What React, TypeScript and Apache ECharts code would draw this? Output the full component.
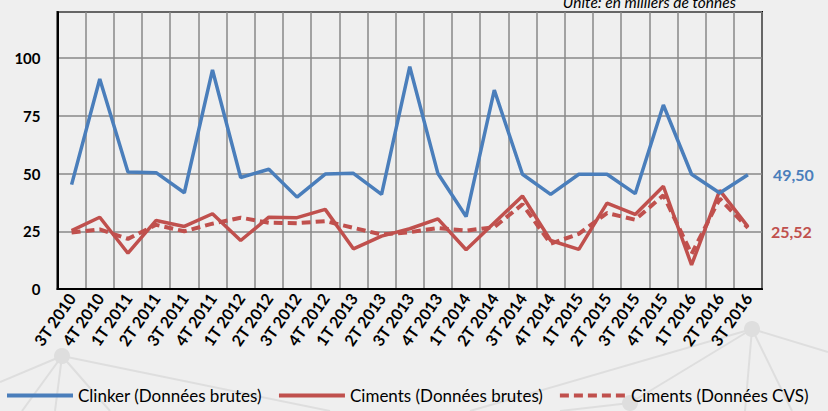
import React, { useEffect, useRef } from "react";
import * as echarts from "echarts";

const categories = [
  "3T 2010", "4T 2010",
  "1T 2011", "2T 2011", "3T 2011", "4T 2011",
  "1T 2012", "2T 2012", "3T 2012", "4T 2012",
  "1T 2013", "2T 2013", "3T 2013", "4T 2013",
  "1T 2014", "2T 2014", "3T 2014", "4T 2014",
  "1T 2015", "2T 2015", "3T 2015", "4T 2015",
  "1T 2016", "2T 2016", "3T 2016",
];

const clinkerBrutes = [
  45.2, 91.0, 50.7, 50.4, 41.7, 94.9, 48.3, 51.9, 39.8, 49.8, 50.1, 41.0, 96.3,
  50.0, 31.4, 86.2, 49.7, 41.0, 49.7, 49.7, 41.3, 79.7, 49.7, 41.6, 49.5,
];

const cimentsBrutes = [
  25.3, 31.1, 15.5, 29.7, 27.1, 32.6, 21.0, 31.1, 30.9, 34.5, 17.4, 22.9, 26.1,
  30.4, 17.0, 28.7, 40.3, 21.0, 17.2, 37.2, 32.3, 44.5, 10.4, 42.7, 27.0,
];

const cimentsCvs = [
  24.5, 25.8, 21.7, 27.8, 25.0, 28.3, 30.9, 28.7, 28.5, 29.4, 26.5, 23.6, 24.6,
  26.4, 25.3, 26.8, 36.7, 19.6, 23.9, 32.9, 30.0, 40.6, 15.2, 39.1, 26.5,
];

const seriesNames = [
  "Clinker (Données brutes)",
  "Ciments (Données brutes)",
  "Ciments (Données CVS)",
];

const endLabelTexts = ["49,50", "25,52"];

const unitText = "Unité: en milliers de tonnes";

const BLUE = "#4a7ebb";
const RED = "#c0504d";
const FONT = "Lato, 'Open Sans', sans-serif";

export default function App() {
  const ref = useRef<HTMLDivElement>(null);

  useEffect(() => {
    document.body.style.margin = "0";
    if (!ref.current) return;
    const chart = echarts.init(ref.current, undefined, { renderer: "svg" });

    const deco = "#dedede";
    const lines: number[][] = [
      [62, 356, 0, 382],
      [62, 356, 22, 411],
      [62, 356, 55, 411],
      [62, 356, 110, 411],
      [62, 356, 330, 411],
      [752, 329, 828, 352],
      [752, 329, 745, 411],
      [752, 329, 792, 411],
      [752, 329, 630, 403],
      [752, 329, 470, 411],
      [630, 403, 560, 411],
    ];

    chart.setOption({
      animation: false,
      backgroundColor: "#efefef",
      textStyle: { fontFamily: FONT },
      graphic: [
        ...lines.map((l) => ({
          type: "line",
          z: -10,
          silent: true,
          shape: { x1: l[0], y1: l[1], x2: l[2], y2: l[3] },
          style: { stroke: deco, lineWidth: 2 },
        })),
        { type: "circle", z: -10, silent: true, shape: { cx: 62, cy: 356, r: 8 }, style: { fill: deco } },
        { type: "circle", z: -10, silent: true, shape: { cx: 752, cy: 329, r: 8 }, style: { fill: deco } },
        { type: "circle", z: -10, silent: true, shape: { cx: 630, cy: 403, r: 8 }, style: { fill: deco } },
        {
          type: "text",
          right: 92,
          top: -6,
          style: {
            text: unitText,
            font: "italic 15.5px " + FONT,
            fill: "#000",
          },
        },
      ],
      grid: {
        left: 57.5,
        right: 66,
        top: 12,
        bottom: 122,
        show: true,
        borderColor: "#000",
        borderWidth: 2,
        backgroundColor: "transparent",
      },
      legend: {
        left: 0,
        top: 382,
        itemWidth: 66,
        itemHeight: 14,
        itemGap: 15,
        itemStyle: { opacity: 0 },
        lineStyle: { width: 4 },
        textStyle: { fontFamily: FONT, fontSize: 17, color: "#000" },
        data: seriesNames,
      },
      xAxis: {
        type: "category",
        data: categories,
        boundaryGap: true,
        axisLine: { show: true, lineStyle: { color: "#000", width: 2 } },
        axisTick: { show: false },
        splitLine: { show: true, lineStyle: { color: "#888", width: 1.5 } },
        axisLabel: {
          interval: 0,
          rotate: 55,
          fontFamily: FONT,
          fontWeight: "bold",
          fontSize: 16,
          color: "#000",
          margin: 6,
        },
      },
      yAxis: {
        type: "value",
        min: 0,
        max: 120,
        interval: 25,
        axisLine: { show: true, lineStyle: { color: "#000", width: 2 } },
        axisTick: { show: false },
        splitLine: { show: true, lineStyle: { color: "#888", width: 1.5 } },
        axisLabel: {
          showMaxLabel: false,
          fontFamily: FONT,
          fontWeight: "bold",
          fontSize: 15,
          color: "#000",
          margin: 17,
        },
      },
      series: [
        {
          name: seriesNames[0],
          type: "line",
          data: clinkerBrutes,
          symbol: "none",
          lineStyle: { color: BLUE, width: 3.5 },
          itemStyle: { color: BLUE },
          z: 3,
          endLabel: {
            show: true,
            formatter: () => endLabelTexts[0],
            color: BLUE,
            fontFamily: FONT,
            fontWeight: "bold",
            fontSize: 16,
            distance: 25,
          },
        },
        {
          name: seriesNames[1],
          type: "line",
          data: cimentsBrutes,
          symbol: "none",
          lineStyle: { color: RED, width: 3.5 },
          itemStyle: { color: RED },
          z: 2,
          endLabel: {
            show: true,
            formatter: () => endLabelTexts[1],
            color: RED,
            fontFamily: FONT,
            fontWeight: "bold",
            fontSize: 16,
            distance: 23,
            offset: [0, 5],
          },
        },
        {
          name: seriesNames[2],
          type: "line",
          data: cimentsCvs,
          symbol: "none",
          lineStyle: { color: RED, width: 4, type: [9, 5] },
          itemStyle: { color: RED },
          z: 2,
        },
      ],
    });

    return () => chart.dispose();
  }, []);

  return <div ref={ref} style={{ width: 828, height: 411 }} />;
}
